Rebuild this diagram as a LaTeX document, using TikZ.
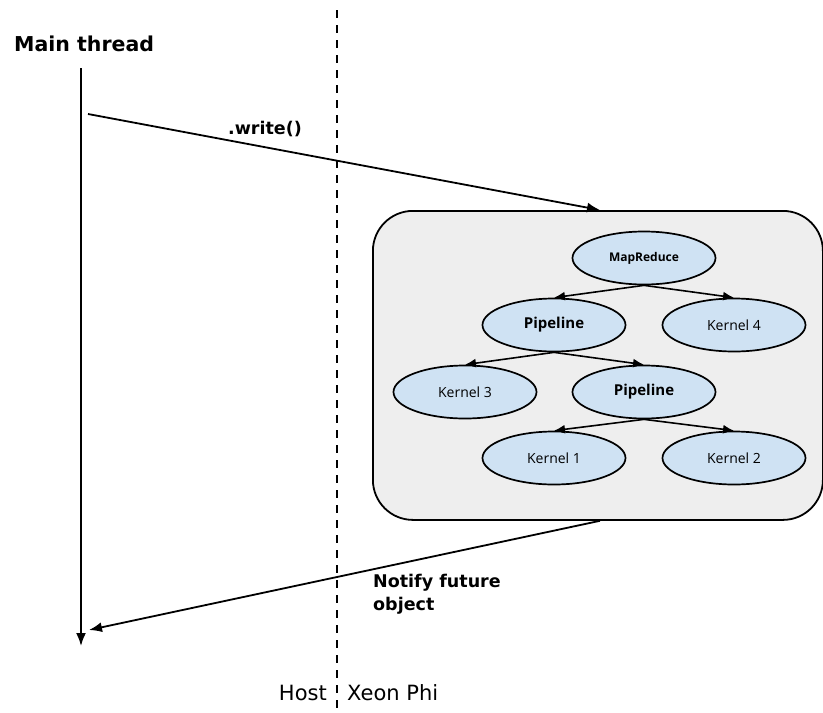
\documentclass[tikz,border=0pt]{standalone}
\usepackage{fontspec}
\setmainfont{DejaVu Sans}
\newfontfamily\treefont{Open Sans}
\usetikzlibrary{arrows.meta,shapes.geometric}
\definecolor{taskfill}{HTML}{CFE2F3}
\definecolor{boxfill}{HTML}{EEEEEE}
\tikzset{
  flow/.style={line width=1.8pt,-{Latex[length=13pt,width=10pt]}},
  treearrow/.style={line width=1.6pt,-{Latex[length=11pt,width=9pt]}},
  task/.style={ellipse,draw,line width=1.7pt,fill=taskfill,minimum width=143pt,minimum height=53pt,inner sep=0pt,font=\treefont\fontsize{14}{16}\selectfont},
  boldtask/.style={task,font=\treefont\bfseries\fontsize{15}{18}\selectfont},
  msglabel/.style={font=\bfseries\fontsize{17.5}{23}\selectfont,inner sep=0pt},
}
\begin{document}
\begin{tikzpicture}[x=1pt,y=-1pt]
\useasboundingbox (0,0) rectangle (823,713);

% host / device divider
\draw[line width=1.6pt,dash pattern=on 8pt off 7pt] (337,10) -- (337,713);
\node[anchor=east,inner sep=0pt,font=\fontsize{21}{24}\selectfont] (host) at (327,693) {Host};
\node[anchor=west,inner sep=0pt,font=\fontsize{21}{24}\selectfont] (xeon) at (347,693) {Xeon Phi};

% main thread timeline
\node[anchor=west,inner sep=0pt,font=\bfseries\fontsize{20.5}{24}\selectfont] (mt) at (14,44) {Main thread};
\coordinate (mtop) at (81,68);
\coordinate (mbot) at (81,646);
\draw[flow] (mtop) -- (mbot);

% device-side task graph
\node[draw,line width=1.8pt,fill=boxfill,rounded corners=40pt,minimum width=450pt,minimum height=309pt,anchor=north west] (box) at (372,210) {};

\node[boldtask,font=\treefont\bfseries\fontsize{12}{14}\selectfont] (mr) at (644,258) {MapReduce};
\node[boldtask] (p1) at (554,325) {Pipeline};
\node[task] (k4) at (734,325) {Kernel 4};
\node[task] (k3) at (465,392) {Kernel 3};
\node[boldtask] (p2) at (644,392) {Pipeline};
\node[task] (k1) at (554,458) {Kernel 1};
\node[task] (k2) at (734,458) {Kernel 2};

\draw[treearrow] (mr.south) -- (p1.north);
\draw[treearrow] (mr.south) -- (k4.north);
\draw[treearrow] (p1.south) -- (k3.north);
\draw[treearrow] (p1.south) -- (p2.north);
\draw[treearrow] (p2.south) -- (k1.north);
\draw[treearrow] (p2.south) -- (k2.north);

% call and completion messages
\coordinate (wstart) at (88,114);
\coordinate (rend) at (89,630);
\draw[flow] (wstart) -- (box.north west -| 600,0);
\node[msglabel] (wlbl) at (265,129) {.write()};
\draw[flow] (box.south west -| 600,0) -- (rend);
\node[msglabel,anchor=north west,align=left] (nlbl) at (373,574) {Notify future\\object};
\end{tikzpicture}
\end{document}
